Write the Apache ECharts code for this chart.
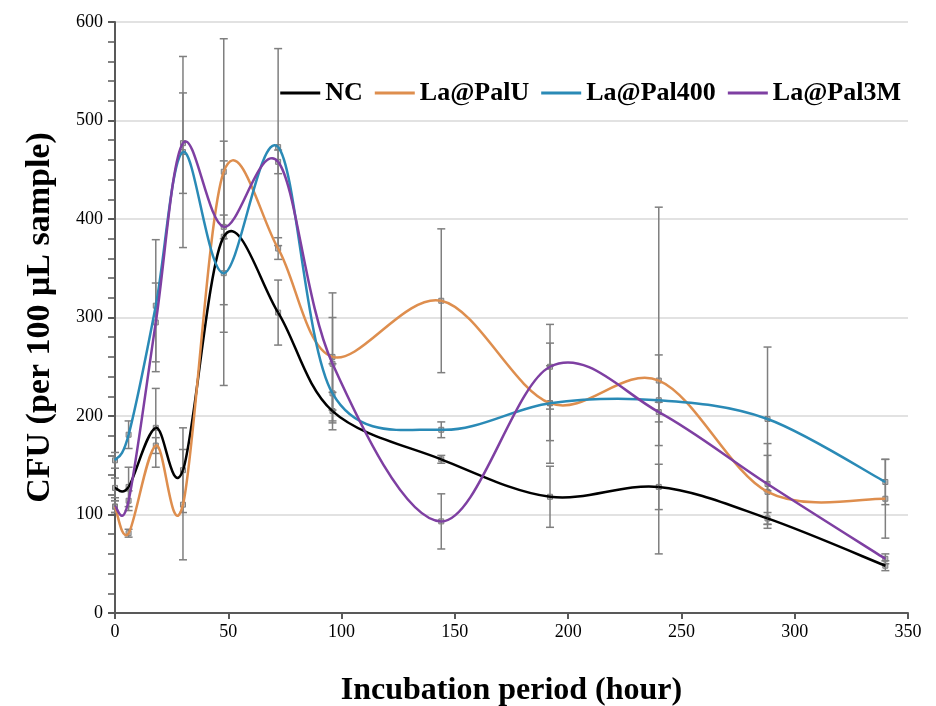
<!DOCTYPE html>
<html>
<head>
<meta charset="utf-8">
<script src="https://cdn.jsdelivr.net/npm/echarts@6/dist/echarts.min.js"></script>
<style>
  html, body { margin: 0; padding: 0; background: #fff; }
  #main { width: 936px; height: 706px; }
</style>
</head>
<body>
<div id="main"></div>
<script>
// incubation times (hour)
var hours = [0, 6, 18, 30, 48, 72, 96, 144, 192, 240, 288, 340];

// CFU per 100 uL sample
var ncCfu     = [127, 128, 188, 145, 382, 305, 205, 156, 118, 128, 96, 48];
var palUCfu   = [108, 81, 170, 110, 448, 370, 260, 317, 213, 236, 123, 116];
var pal400Cfu = [155, 181, 312, 468, 345, 473, 223, 186, 213, 216, 197, 133];
var pal3MCfu  = [108, 114, 295, 477, 392, 458, 253, 93, 250, 204, 131, 55];

// error (+/-)
var ncErr     = [10, 20, 40, 43, 97, 33, 19, 4, 31, 23, 6, 5];
var palUErr   = [6, 4, 8, 56, 135, 11, 65, 73, 61, 176, 37, 40];
var pal400Err = [8, 14, 67, 97, 114, 100, 30, 8, 38, 46, 73, 23];
var pal3MErr  = [6, 10, 40, 51, 12, 12, 47, 28, 43, 10, 41, 5];

var seriesNames = ['NC', 'La@PalU', 'La@Pal400', 'La@Pal3M'];
var colors = ['#000000', '#DE8E4E', '#2A8AB6', '#7E3FA2'];
var allValues = [ncCfu, palUCfu, pal400Cfu, pal3MCfu];
var allErrors = [ncErr, palUErr, pal400Err, pal3MErr];

var myChart = echarts.init(document.getElementById('main'));
var serifFont = '"Liberation Serif", "Times New Roman", serif';

function pairs(vals) {
    var out = [];
    for (var i = 0; i < hours.length; i++) out.push([hours[i], vals[i]]);
    return out;
}

function errData(vals, errs) {
    var out = [];
    for (var i = 0; i < hours.length; i++) out.push([hours[i], vals[i] - errs[i], vals[i] + errs[i], vals[i]]);
    return out;
}

// gray error bars with caps and a little marker on the point
function renderErr(params, api) {
    var x = api.value(0);
    var lo = api.coord([x, api.value(1)]);
    var hi = api.coord([x, api.value(2)]);
    var mid = api.coord([x, api.value(3)]);
    var w = 4;
    var st = { stroke: '#7f7f7f', lineWidth: 1.5 };
    return {
        type: 'group',
        children: [
            { type: 'line', shape: { x1: hi[0], y1: hi[1], x2: lo[0], y2: lo[1] }, style: st },
            { type: 'line', shape: { x1: hi[0] - w, y1: hi[1], x2: hi[0] + w, y2: hi[1] }, style: st },
            { type: 'line', shape: { x1: lo[0] - w, y1: lo[1], x2: lo[0] + w, y2: lo[1] }, style: st },
            { type: 'rect', shape: { x: mid[0] - 2.5, y: mid[1] - 2.5, width: 5, height: 5 },
              style: { fill: 'rgba(127,127,127,0.5)', stroke: '#7f7f7f', lineWidth: 1 } }
        ]
    };
}

// Excel-like smoothed line: each item draws the bezier segment to the next point
function makeSmoothRender(vals, color) {
    return function (params, api) {
        var i = params.dataIndex;
        var n = hours.length;
        if (i >= n - 1) return null;
        var p = function (j) {
            j = Math.max(0, Math.min(n - 1, j));
            return api.coord([hours[j], vals[j]]);
        };
        var p0 = p(i - 1), p1 = p(i), p2 = p(i + 1), p3 = p(i + 2);
        var t = 1 / 6;
        return {
            type: 'bezierCurve',
            shape: {
                x1: p1[0], y1: p1[1],
                x2: p2[0], y2: p2[1],
                cpx1: p1[0] + (p2[0] - p0[0]) * t,
                cpy1: p1[1] + (p2[1] - p0[1]) * t,
                cpx2: p2[0] - (p3[0] - p1[0]) * t,
                cpy2: p2[1] - (p3[1] - p1[1]) * t
            },
            style: { stroke: color, lineWidth: 2.5, fill: null }
        };
    };
}

var series = [];
for (var s = 0; s < seriesNames.length; s++) {
    series.push({
        name: seriesNames[s] + '_err',
        type: 'custom',
        renderItem: renderErr,
        data: errData(allValues[s], allErrors[s]),
        z: 1,
        silent: true
    });
}
for (var k = 0; k < seriesNames.length; k++) {
    series.push({
        name: seriesNames[k],
        type: 'custom',
        renderItem: makeSmoothRender(allValues[k], colors[k]),
        data: pairs(allValues[k]),
        itemStyle: { color: colors[k] },
        z: 3,
        silent: true
    });
}

option = {
    backgroundColor: '#fff',
    animation: false,
    color: colors,
    grid: {
        left: 115,
        right: 28,
        top: 22,
        bottom: 93,
        outerBoundsMode: 'none'
    },
    legend: {
        data: seriesNames,
        right: 30,
        top: 75,
        icon: 'rect',
        itemWidth: 40,
        itemHeight: 3,
        itemGap: 12,
        textStyle: {
            fontFamily: serifFont,
            fontWeight: 'bold',
            fontSize: 26,
            color: '#000',
            padding: [0, 0, 0, 0]
        }
    },
    xAxis: {
        type: 'value',
        min: 0,
        max: 350,
        interval: 50,
        name: 'Incubation period (hour)',
        nameLocation: 'middle',
        nameGap: 62,
        nameTextStyle: {
            fontFamily: serifFont,
            fontWeight: 'bold',
            fontSize: 32,
            color: '#000'
        },
        axisLine: { lineStyle: { color: '#595959', width: 2 } },
        axisTick: { show: true, length: 6, lineStyle: { color: '#595959', width: 2 } },
        axisLabel: {
            fontFamily: serifFont,
            fontSize: 18,
            color: '#000',
            margin: 10
        },
        splitLine: { show: false }
    },
    yAxis: {
        type: 'value',
        min: 0,
        max: 600,
        interval: 100,
        name: 'CFU (per 100 μL sample)',
        nameLocation: 'middle',
        nameGap: 58,
        nameTextStyle: {
            fontFamily: serifFont,
            fontWeight: 'bold',
            fontSize: 34,
            color: '#000'
        },
        axisLine: { show: true, lineStyle: { color: '#595959', width: 2 } },
        axisTick: { show: true, length: 7, lineStyle: { color: '#595959', width: 2 } },
        minorTick: { show: true, splitNumber: 5, length: 7, lineStyle: { color: '#595959', width: 1.5 } },
        axisLabel: {
            fontFamily: serifFont,
            fontSize: 18,
            color: '#000',
            margin: 12
        },
        splitLine: { show: true, lineStyle: { color: '#d9d9d9', width: 1.5 } }
    },
    series: series
};

myChart.setOption(option);
</script>
</body>
</html>
